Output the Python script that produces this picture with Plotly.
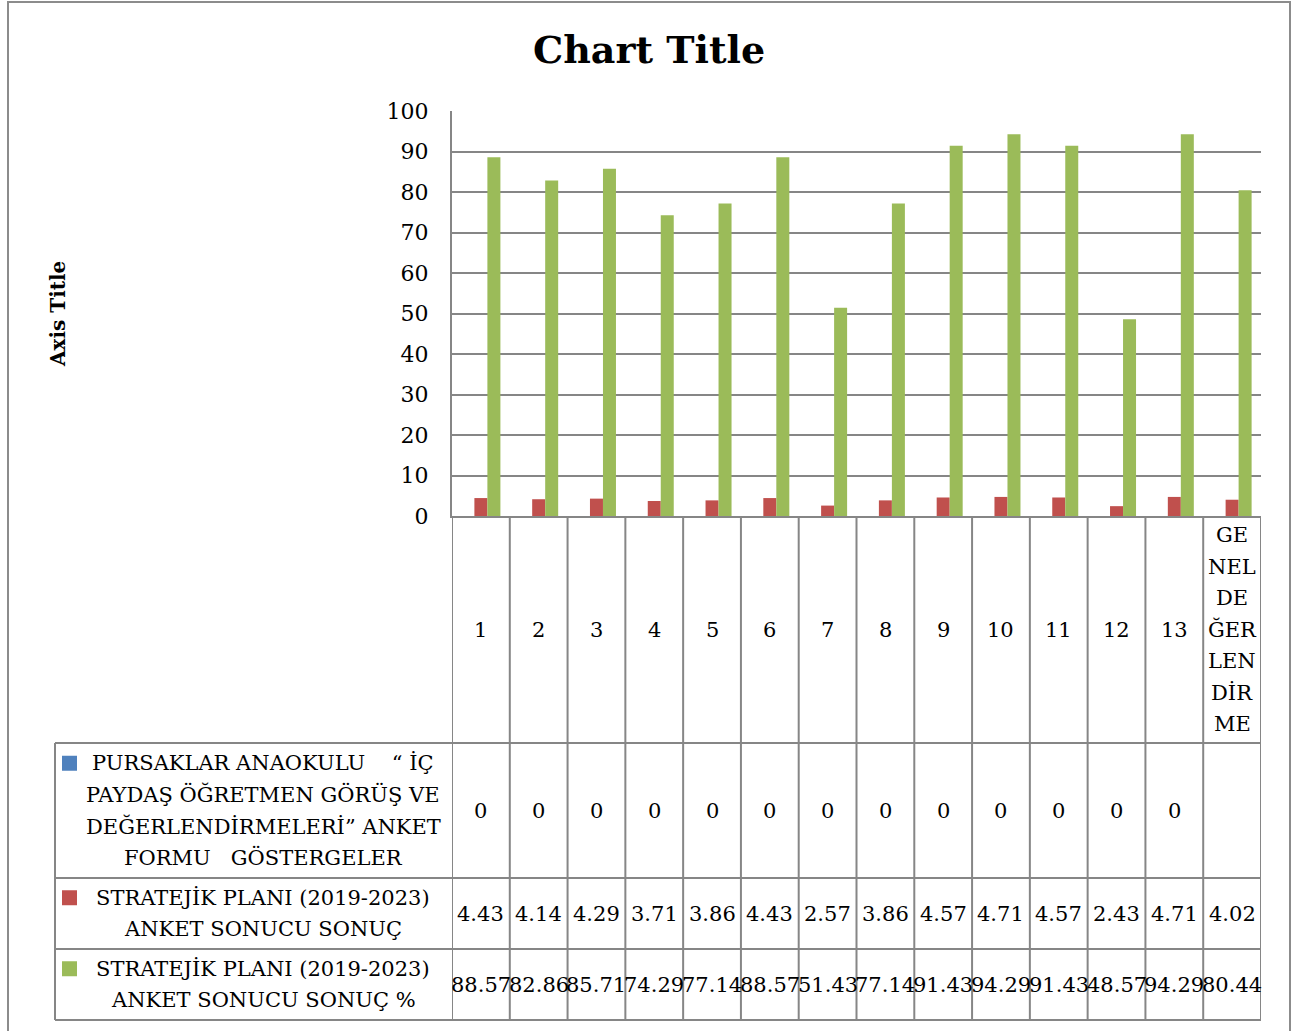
import plotly.graph_objects as go

# ---------------- data ----------------
categories = ["1", "2", "3", "4", "5", "6", "7", "8", "9", "10", "11", "12", "13", "GENEL DEĞERLENDİRME"]
tick_labels = ["1", "2", "3", "4", "5", "6", "7", "8", "9", "10", "11", "12", "13",
               "GE<br>NEL<br>DE<br>ĞER<br>LEN<br>DİR<br>ME"]
series_names = [
    "PURSAKLAR ANAOKULU    “ İÇ PAYDAŞ ÖĞRETMEN GÖRÜŞ VE DEĞERLENDİRMELERİ” ANKET FORMU   GÖSTERGELER",
    "STRATEJİK PLANI (2019-2023) ANKET SONUCU SONUÇ",
    "STRATEJİK PLANI (2019-2023) ANKET SONUCU SONUÇ %",
]
legend_lines = [
    ["PURSAKLAR ANAOKULU    “ İÇ", "PAYDAŞ ÖĞRETMEN GÖRÜŞ VE", "DEĞERLENDİRMELERİ” ANKET", "FORMU   GÖSTERGELER"],
    ["STRATEJİK PLANI (2019-2023)", "ANKET SONUCU SONUÇ"],
    ["STRATEJİK PLANI (2019-2023)", "ANKET SONUCU SONUÇ %"],
]
gosterge = [0, 0, 0, 0, 0, 0, 0, 0, 0, 0, 0, 0, 0, None]
sonuc = [4.43, 4.14, 4.29, 3.71, 3.86, 4.43, 2.57, 3.86, 4.57, 4.71, 4.57, 2.43, 4.71, 4.02]
sonuc_pct = [88.57, 82.86, 85.71, 74.29, 77.14, 88.57, 51.43, 77.14, 91.43, 94.29, 91.43, 48.57, 94.29, 80.44]
y_ticks = [0, 10, 20, 30, 40, 50, 60, 70, 80, 90, 100]

series_values = [gosterge, sonuc, sonuc_pct]
colors = ["#4F81BD", "#C0504D", "#9BBB59"]

# ---------------- layout helpers ----------------
W, H = 1295, 1031
FONT = "DejaVu Serif"
GRID = "#868686"


def px(x):
    return x / W


def py(y):
    return 1 - y / H


PLOT_L, PLOT_R, PLOT_T, PLOT_B = 452, 1261, 111, 516
TABLE_L = 55
ROW_BOUNDS = [516, 743, 878, 949, 1020]
LINE_H = 31.5

fig = go.Figure()
for name, vals, col in zip(series_names, series_values, colors):
    fig.add_trace(go.Bar(x=categories, y=vals, name=name, marker=dict(color=col, line=dict(width=0)),
                         showlegend=False))

shapes = []
annotations = []

# outer chart border
shapes.append(dict(type="rect", xref="paper", yref="paper", x0=px(8), x1=px(1290), y0=py(1040), y1=py(2),
                   line=dict(color="#8c8c8c", width=2), fillcolor="rgba(0,0,0,0)", layer="below"))

# table vertical lines (category boundaries)
for i in range(len(categories) + 1):
    shapes.append(dict(type="line", xref="x", yref="paper", x0=i - 0.5, x1=i - 0.5,
                       y0=py(ROW_BOUNDS[0]), y1=py(ROW_BOUNDS[-1]), line=dict(color=GRID, width=2)))
# legend column left line
shapes.append(dict(type="line", xref="paper", yref="paper", x0=px(TABLE_L), x1=px(TABLE_L),
                   y0=py(ROW_BOUNDS[1]), y1=py(ROW_BOUNDS[-1]), line=dict(color=GRID, width=2)))
# horizontal row lines
for yb in ROW_BOUNDS[1:]:
    shapes.append(dict(type="line", xref="paper", yref="paper", x0=px(TABLE_L), x1=px(PLOT_R),
                       y0=py(yb), y1=py(yb), line=dict(color=GRID, width=2)))

# category labels row
cat_center = (ROW_BOUNDS[0] + ROW_BOUNDS[1]) / 2
for ci, lab in enumerate(tick_labels):
    parts = lab.split("<br>")
    n = len(parts)
    for k, p in enumerate(parts):
        yc = cat_center + (k - (n - 1) / 2) * LINE_H
        annotations.append(dict(x=ci, y=py(yc), xref="x", yref="paper", text=p, showarrow=False,
                                xanchor="center", yanchor="middle", font=dict(family=FONT, size=21, color="black")))

# data rows
for r, (vals, col, lines) in enumerate(zip(series_values, colors, legend_lines)):
    top, bot = ROW_BOUNDS[r + 1], ROW_BOUNDS[r + 2]
    yc_row = (top + bot) / 2
    for ci, v in enumerate(vals):
        if v is None:
            continue
        txt = "0" if v == 0 else f"{v:.2f}"
        annotations.append(dict(x=ci, y=py(yc_row), xref="x", yref="paper", text=txt, showarrow=False,
                                xanchor="center", yanchor="middle", font=dict(family=FONT, size=21, color="black")))
    n = len(lines)
    for k, line in enumerate(lines):
        yc = yc_row + (k - (n - 1) / 2) * LINE_H
        annotations.append(dict(x=px(263), y=py(yc), xref="paper", yref="paper",
                                text=line.replace(" ", "\u00a0"), showarrow=False,
                                xanchor="center", yanchor="middle", font=dict(family=FONT, size=21, color="black")))
    # legend key square next to first line
    y_first = yc_row - (n - 1) / 2 * LINE_H
    shapes.append(dict(type="rect", xref="paper", yref="paper", x0=px(62), x1=px(77),
                       y0=py(y_first + 7.5), y1=py(y_first - 7.5), fillcolor=col, line=dict(width=0)))

# title and axis title
annotations.append(dict(x=px(649), y=py(50), xref="paper", yref="paper", text="<b>Chart Title</b>",
                        showarrow=False, xanchor="center", yanchor="middle",
                        font=dict(family=FONT, size=38, color="black")))
annotations.append(dict(x=px(58), y=py(314), xref="paper", yref="paper", text="<b>Axis Title</b>",
                        showarrow=False, xanchor="center", yanchor="middle", textangle=-90,
                        font=dict(family=FONT, size=20, color="black")))

fig.update_layout(
    template="none",
    width=W, height=H, autosize=False,
    margin=dict(l=0, r=0, t=0, b=0, pad=0, autoexpand=False),
    paper_bgcolor="white", plot_bgcolor="white",
    font=dict(family=FONT, color="black"),
    barmode="group", bargap=0.325, bargroupgap=0,
    showlegend=False,
    xaxis=dict(type="category", domain=[px(PLOT_L), px(PLOT_R)], range=[-0.5, len(categories) - 0.5],
               showticklabels=False, ticks="", showgrid=False, showline=True, linecolor=GRID, linewidth=2,
               zeroline=False, fixedrange=True, automargin=False),
    yaxis=dict(domain=[py(PLOT_B), py(PLOT_T)], range=[0, 100], tickvals=y_ticks, showgrid=True,
               gridcolor=GRID, gridwidth=2, showline=True, linecolor=GRID, linewidth=2, ticks="",
               zeroline=False, ticklabelstandoff=17, automargin=False,
               tickfont=dict(family=FONT, size=22, color="black"), fixedrange=True),
    shapes=shapes,
    annotations=annotations,
)

post = (
    "document.body.style.margin='0';document.body.style.padding='0';document.body.style.overflow='hidden';"
    "var d=document.getElementsByClassName('plotly-graph-div')[0];"
    "d.style.position='fixed';d.style.top='0px';d.style.left='0px';"
)
fig.write_html("out.html", config={"displayModeBar": False}, post_script=post)
